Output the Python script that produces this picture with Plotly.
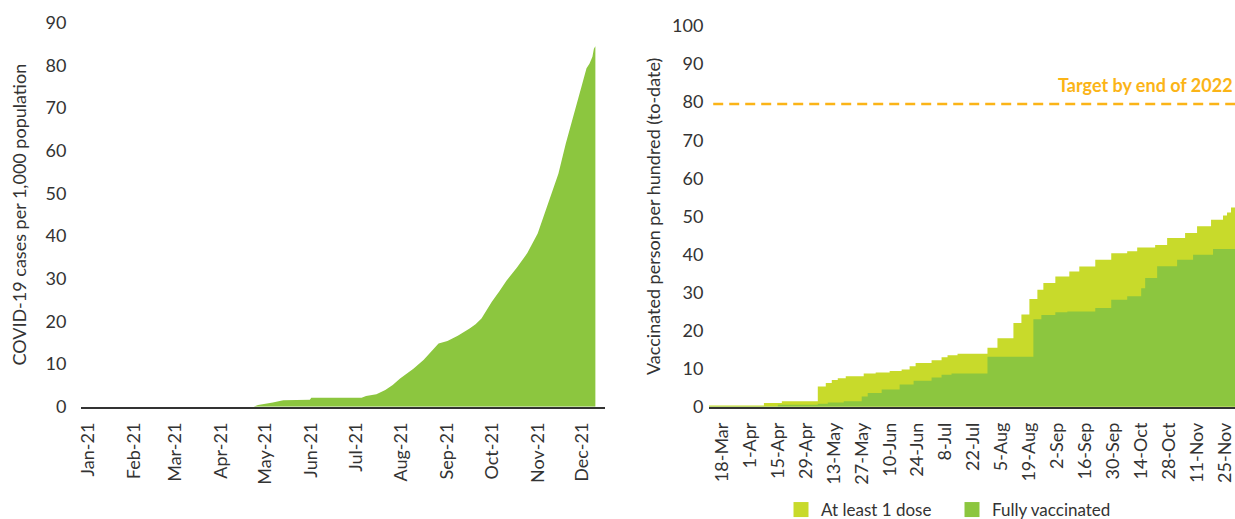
import plotly.graph_objects as go

# ---------------- Left chart data: COVID-19 cases per 1,000 population ----------------
case_dates = [
    "2021-01-01", "2021-04-23", "2021-04-26", "2021-05-03", "2021-05-06", "2021-05-13",
    "2021-05-31", "2021-06-01", "2021-07-05", "2021-07-08", "2021-07-15", "2021-07-21",
    "2021-07-26", "2021-07-31", "2021-08-05", "2021-08-09", "2021-08-16", "2021-08-24",
    "2021-08-26", "2021-09-01", "2021-09-08", "2021-09-16", "2021-09-20", "2021-09-24",
    "2021-10-01", "2021-10-06", "2021-10-11", "2021-10-18", "2021-10-25", "2021-11-01",
    "2021-11-04", "2021-11-08", "2021-11-15", "2021-11-20", "2021-11-24", "2021-11-27",
    "2021-12-01", "2021-12-04", "2021-12-06", "2021-12-08", "2021-12-09", "2021-12-10",
]
case_values = [
    0, 0, 0.4, 0.7, 1.0, 1.5,
    1.6, 2.1, 2.1, 2.5, 2.9, 3.9,
    5.1, 6.6, 7.8, 8.9, 11.0, 14.0,
    14.8, 15.4, 16.6, 18.3, 19.3, 20.7,
    24.6, 27.0, 29.6, 32.6, 36.0, 40.6,
    43.5, 47.6, 54.6, 61.7, 66.5, 70.3,
    75.5, 79.3, 80.4, 82.0, 83.9, 84.5,
]
case_tick_dates = ["2021-%02d-01" % m for m in range(1, 13)]
case_tick_labels = ["Jan-21", "Feb-21", "Mar-21", "Apr-21", "May-21", "Jun-21",
                    "Jul-21", "Aug-21", "Sep-21", "Oct-21", "Nov-21", "Dec-21"]

# ---------------- Right chart data: vaccination ----------------
dose1_dates = [
    "2021-03-11", "2021-04-08", "2021-04-17", "2021-05-05", "2021-05-09", "2021-05-12",
    "2021-05-15", "2021-05-19", "2021-05-28", "2021-06-03", "2021-06-10", "2021-06-16",
    "2021-06-20", "2021-06-23", "2021-07-01", "2021-07-06", "2021-07-09", "2021-07-14",
    "2021-07-29", "2021-08-03", "2021-08-11", "2021-08-15", "2021-08-19", "2021-08-23",
    "2021-08-26", "2021-09-01", "2021-09-08", "2021-09-13", "2021-09-21", "2021-09-29",
    "2021-10-07", "2021-10-12", "2021-10-21", "2021-10-27", "2021-11-05", "2021-11-11",
    "2021-11-18", "2021-11-24", "2021-11-26", "2021-11-28", "2021-11-30",
]
dose1_values = [
    0.3, 1.0, 1.4, 5.3, 6.2, 7.0,
    7.5, 8.0, 8.7, 9.0, 9.4, 9.8,
    10.6, 11.5, 12.2, 13.0, 13.5, 13.9,
    15.5, 18.0, 22.0, 24.2, 28.3, 30.7,
    32.5, 34.2, 35.5, 36.8, 38.6, 40.3,
    40.8, 41.8, 42.5, 44.3, 45.6, 47.4,
    49.1, 50.2, 51.0, 52.3, 53.1,
]
full_dates = [
    "2021-03-11", "2021-04-15", "2021-05-05", "2021-05-10", "2021-05-18", "2021-05-27",
    "2021-05-30", "2021-06-06", "2021-06-15", "2021-06-22", "2021-07-01", "2021-07-06",
    "2021-07-11", "2021-07-29", "2021-08-21", "2021-08-25", "2021-09-01", "2021-09-07",
    "2021-09-21", "2021-09-29", "2021-10-07", "2021-10-14", "2021-10-16", "2021-10-22",
    "2021-11-01", "2021-11-09", "2021-11-19", "2021-11-30",
]
full_values = [
    0.1, 0.5, 0.8, 1.1, 1.4, 2.7,
    3.6, 4.5, 5.8, 6.8, 7.7, 8.4,
    8.7, 13.1, 23.0, 24.1, 24.8, 25.0,
    25.9, 28.1, 29.0, 31.1, 33.8, 36.9,
    38.6, 39.9, 41.4, 43.0,
]
vax_tick_dates = [
    "2021-03-18", "2021-04-01", "2021-04-15", "2021-04-29", "2021-05-13", "2021-05-27",
    "2021-06-10", "2021-06-24", "2021-07-08", "2021-07-22", "2021-08-05", "2021-08-19",
    "2021-09-02", "2021-09-16", "2021-09-30", "2021-10-14", "2021-10-28", "2021-11-11",
    "2021-11-25",
]
vax_tick_labels = [
    "18-Mar", "1-Apr", "15-Apr", "29-Apr", "13-May", "27-May", "10-Jun", "24-Jun",
    "8-Jul", "22-Jul", "5-Aug", "19-Aug", "2-Sep", "16-Sep", "30-Sep", "14-Oct",
    "28-Oct", "11-Nov", "25-Nov",
]
target_value = 79.5
target_label = "Target by end of 2022"

GREEN = "#8cc63f"
LIME = "#c8da2b"
ORANGE = "#fbb417"
TXT = "#333333"
FONT = "Lato"

fig = go.Figure()

fig.add_trace(go.Scatter(
    x=case_dates, y=case_values, mode="lines", line=dict(width=0, color=GREEN),
    fill="tozeroy", fillcolor=GREEN, showlegend=False, xaxis="x", yaxis="y",
    hoverinfo="skip",
))

fig.add_trace(go.Scatter(
    x=dose1_dates, y=dose1_values, mode="lines", line=dict(width=0, color=LIME, shape="hv"),
    fill="tozeroy", fillcolor=LIME, showlegend=False, xaxis="x2", yaxis="y2",
))
fig.add_trace(go.Scatter(
    x=full_dates, y=full_values, mode="lines", line=dict(width=0, color=GREEN, shape="hv"),
    fill="tozeroy", fillcolor=GREEN, showlegend=False, xaxis="x2", yaxis="y2",
))
# legend entries
fig.add_trace(go.Scatter(
    x=[None], y=[None], mode="markers", name="At least 1 dose",
    marker=dict(symbol="square", size=15, color=LIME), xaxis="x2", yaxis="y2",
))
fig.add_trace(go.Scatter(
    x=[None], y=[None], mode="markers", name="Fully vaccinated",
    marker=dict(symbol="square", size=15, color=GREEN), xaxis="x2", yaxis="y2",
))

fig.add_shape(type="line", xref="x2 domain", yref="y2", x0=0.008, x1=1,
              y0=target_value, y1=target_value,
              line=dict(color=ORANGE, width=2.6, dash="10px,6px"))
fig.add_annotation(xref="x2 domain", yref="y2", x=1, y=target_value, xanchor="right",
                   yanchor="bottom", yshift=6, text="<b>" + target_label + "</b>",
                   showarrow=False, font=dict(family=FONT, size=18, color=ORANGE))

H = 519.0
ybot = (H - 406.7) / H
tick_font = dict(family=FONT, size=18, color=TXT)

fig.update_layout(
    width=1235, height=519,
    margin=dict(l=0, r=0, t=0, b=0, autoexpand=False),
    paper_bgcolor="white", plot_bgcolor="white",
    font=dict(family=FONT, color=TXT),
    showlegend=True,
    legend=dict(orientation="h", x=781 / 1235, y=(H - 510) / H, xanchor="left",
                yanchor="middle", font=dict(family=FONT, size=17, color=TXT),
                entrywidth=126, bgcolor="rgba(0,0,0,0)"),
    xaxis=dict(
        domain=[81 / 1235, 605 / 1235], type="date",
        range=["2020-12-27 08:00", "2021-12-16 12:00"],
        tickvals=case_tick_dates, ticktext=case_tick_labels, tickangle=-90,
        ticks="outside", ticklen=7, tickcolor="rgba(0,0,0,0)",
        showline=True, linecolor=TXT, linewidth=1.5, showgrid=False, zeroline=False,
        tickfont=tick_font, anchor="y", automargin=False,
    ),
    yaxis=dict(
        domain=[ybot, (H - 22.7) / H], range=[0, 90], dtick=10,
        ticks="outside", ticklen=10, tickcolor="rgba(0,0,0,0)",
        showline=False, showgrid=False, zeroline=False, tickfont=tick_font,
        title=dict(text="COVID-19 cases per 1,000 population",
                   font=dict(family=FONT, size=18, color=TXT), standoff=14),
        anchor="x", automargin=False,
    ),
    xaxis2=dict(
        domain=[709 / 1235, 1.0], type="date",
        range=["2021-03-11 12:00", "2021-11-30"],
        tickvals=vax_tick_dates, ticktext=vax_tick_labels, tickangle=-90,
        ticks="outside", ticklen=7, tickcolor="rgba(0,0,0,0)",
        showline=True, linecolor=TXT, linewidth=1.5, showgrid=False, zeroline=False,
        tickfont=tick_font, anchor="y2", automargin=False,
    ),
    yaxis2=dict(
        domain=[ybot, (H - 26) / H], range=[0, 100], dtick=10,
        ticks="outside", ticklen=1, tickcolor="rgba(0,0,0,0)",
        showline=False, showgrid=False, zeroline=False, tickfont=tick_font,
        title=dict(text="Vaccinated person per hundred (to-date)",
                   font=dict(family=FONT, size=18, color=TXT), standoff=6),
        anchor="x2", automargin=False,
    ),
)

fig.write_html("out.html", config={"displayModeBar": False},
               post_script="document.body.style.margin='0';")
